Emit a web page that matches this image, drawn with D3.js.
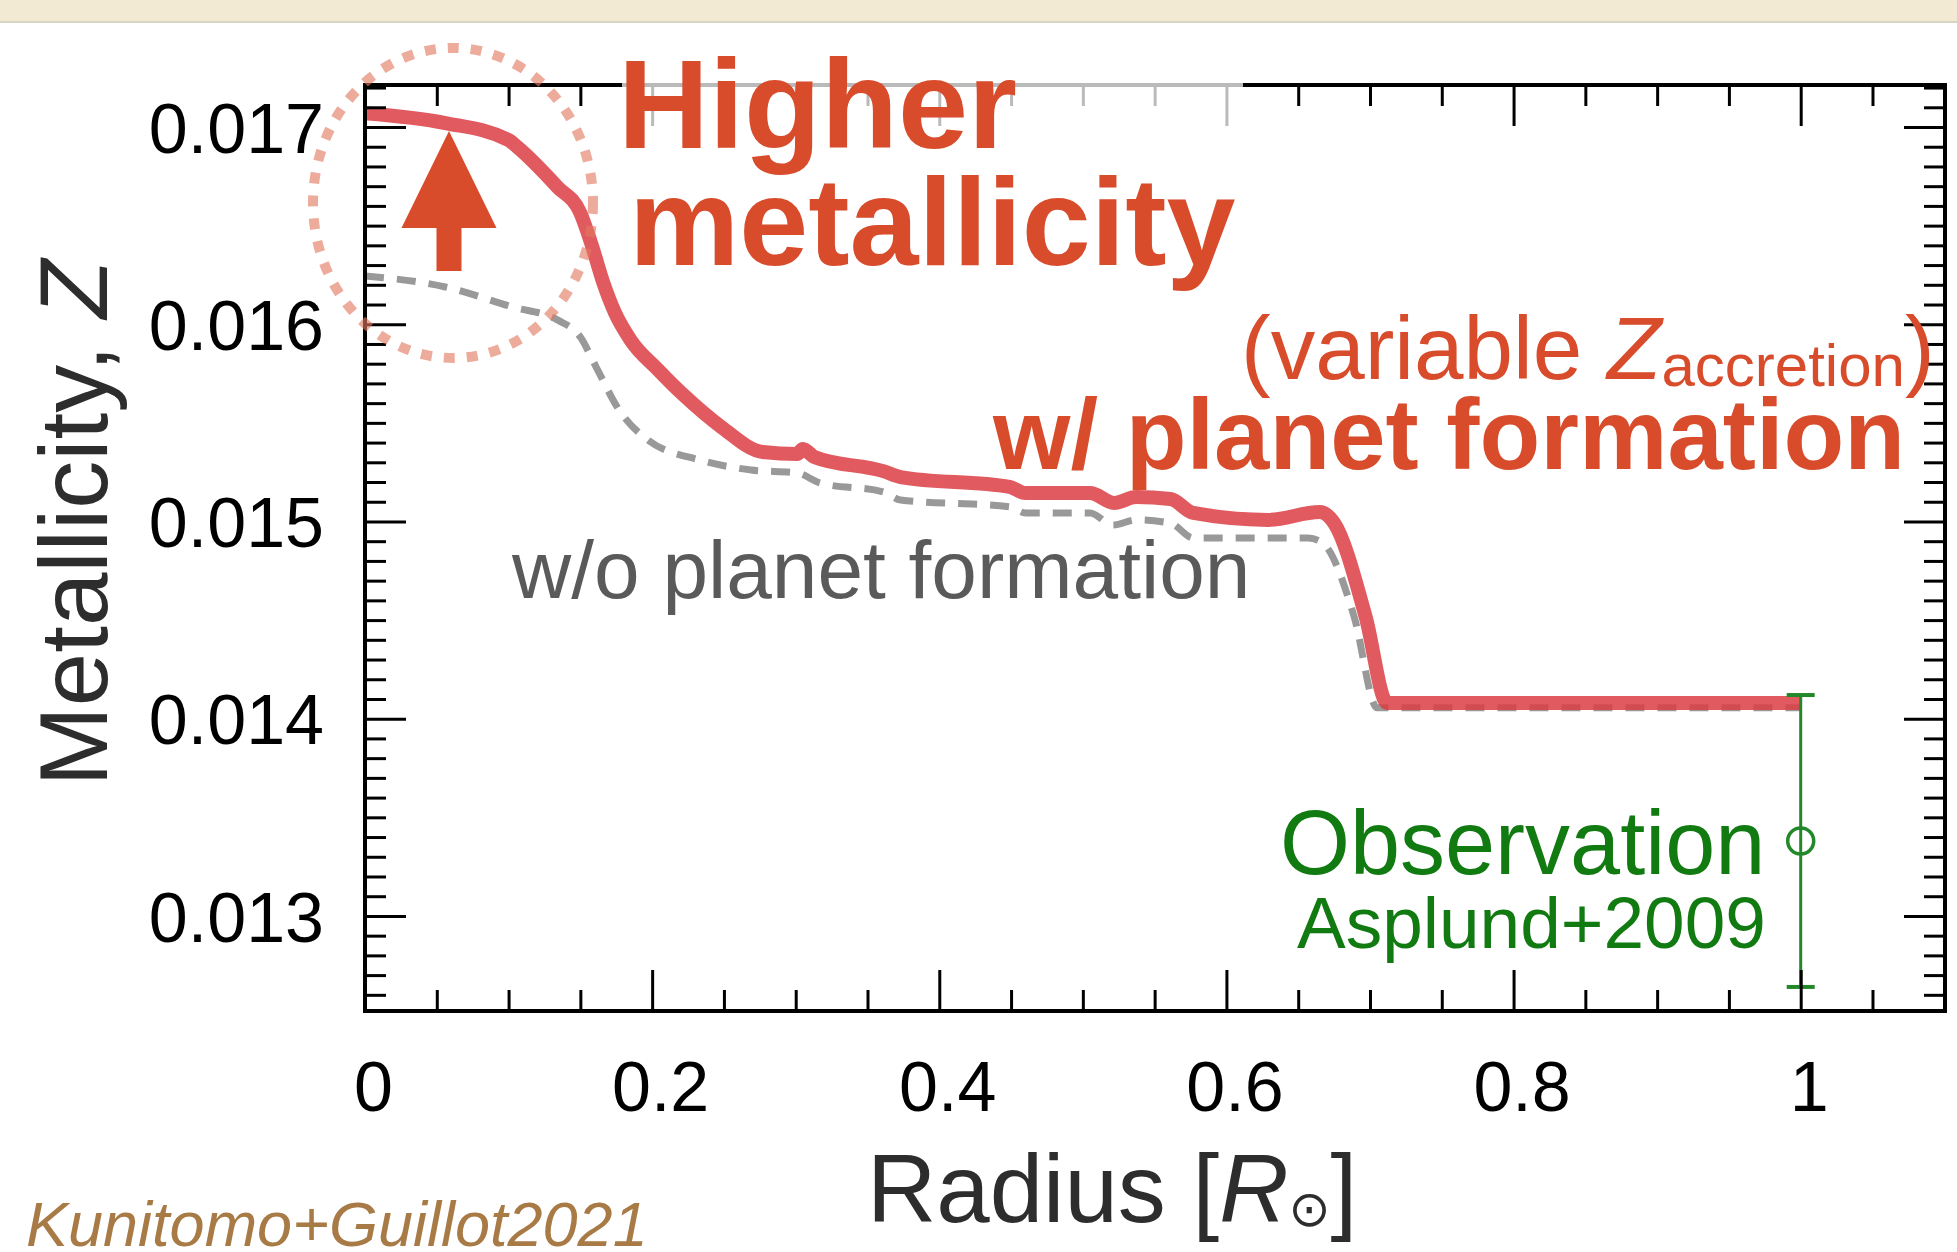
<!DOCTYPE html>
<html>
<head>
<meta charset="utf-8">
<script src="https://cdn.jsdelivr.net/npm/d3@7"></script>
<style>
  body { margin: 0; background: #fff; }
  svg { display: block; }
  text { font-family: 'Liberation Sans', Arial, Helvetica, sans-serif; }
</style>
</head>
<body>
<div id="chart"></div>
<script>
// metallicity profile of the Sun, with / without planet formation

var width = 1957,
    height = 1252;

// with planet formation (variable Z_accretion)
var radiusPF = [0, 0.056, 0.100, 0.106, 0.134, 0.150, 0.158, 0.166, 0.174, 0.185, 0.204, 0.222, 0.248, 0.277,
    0.301, 0.305, 0.313, 0.361, 0.373, 0.449, 0.460, 0.505, 0.522, 0.537, 0.561, 0.577, 0.629, 0.665,
    0.675, 0.697, 0.712, 1.0];
var zPF = [0.01707, 0.01702, 0.016934, 0.016899, 0.016696, 0.016564, 0.01640, 0.01621, 0.01606, 0.01592,
    0.01577, 0.01564, 0.01548, 0.015352, 0.015342, 0.015368, 0.015327, 0.015255, 0.015225, 0.015175,
    0.015144, 0.015144, 0.015094, 0.015124, 0.015114, 0.015043, 0.015008, 0.015048, 0.014992, 0.014516,
    0.01408, 0.01408];

// without planet formation
var radiusNoPF = [0, 0.056, 0.103, 0.134, 0.150, 0.161, 0.177, 0.197, 0.233, 0.269, 0.301, 0.317, 0.361,
    0.373, 0.449, 0.460, 0.505, 0.521, 0.537, 0.561, 0.577, 0.657, 0.667, 0.689, 0.705, 1.0];
var zNoPF = [0.016245, 0.016189, 0.016087, 0.016022, 0.015935, 0.015783, 0.015565, 0.015413, 0.015312,
    0.015261, 0.015246, 0.015195, 0.015150, 0.015109, 0.015074, 0.015043, 0.015043, 0.014982, 0.015008,
    0.014992, 0.014916, 0.014916, 0.014891, 0.014516, 0.014055, 0.014055];

// observation (Asplund+2009)
var obsRadius = [1.0];
var obsZ = [0.01338];
var obsErr = [0.00074];

var xTicks = [0, 0.2, 0.4, 0.6, 0.8, 1];
var xTickLabels = ['0', '0.2', '0.4', '0.6', '0.8', '1'];
var yTicks = [0.013, 0.014, 0.015, 0.016, 0.017];
var yTickLabels = ['0.013', '0.014', '0.015', '0.016', '0.017'];

var plotLeft = 365, plotRight = 1945, plotTop = 85, plotBottom = 1011;

var x = d3.scaleLinear().domain([0, 1.1]).range([plotLeft, plotLeft + 1.1 * 1435.7]);
var y = d3.scaleLinear().domain([0.012518, 0.017213]).range([plotBottom, plotTop]);

var xMinor = d3.range(0, 1.1001, 0.05).filter(function(d) { return Math.abs(d * 5 - Math.round(d * 5)) > 1e-6; });
var yMinor = d3.range(0.0126, 0.01721, 0.0001).filter(function(d) { return Math.abs(d * 1000 - Math.round(d * 1000)) > 1e-6; });

var svg = d3.select('#chart').append('svg')
    .attr('width', width)
    .attr('height', height);

// beige strip at the top
svg.append('rect').attr('x', 0).attr('y', 0).attr('width', width).attr('height', 21).attr('fill', '#f3ead4');
svg.append('rect').attr('x', 0).attr('y', 21).attr('width', width).attr('height', 2).attr('fill', '#d9d3c6');

// curves
var line = d3.line()
    .x(function(d) { return x(d[0]); })
    .y(function(d) { return y(d[1]); })
    .curve(d3.curveMonotoneX);

svg.append('path')
    .datum(d3.zip(radiusNoPF, zNoPF))
    .attr('d', line)
    .attr('fill', 'none')
    .attr('stroke', '#999')
    .attr('stroke-width', 7)
    .attr('stroke-dasharray', '19 13');

svg.append('path')
    .datum(d3.zip(radiusPF, zPF))
    .attr('d', line)
    .attr('fill', 'none')
    .attr('stroke', 'rgb(218,61,67)')
    .attr('stroke-opacity', 0.85)
    .attr('stroke-width', 14)
    .attr('stroke-linejoin', 'round');

// observation with error bar
var obs = svg.append('g').selectAll('g').data(d3.zip(obsRadius, obsZ, obsErr)).enter().append('g');
obs.append('line')
    .attr('x1', function(d) { return x(d[0]); }).attr('x2', function(d) { return x(d[0]); })
    .attr('y1', function(d) { return y(d[1] + d[2]); }).attr('y2', function(d) { return y(d[1] - d[2]); })
    .attr('stroke', '#23882a').attr('stroke-width', 3);
[1, -1].forEach(function(s) {
    obs.append('line')
        .attr('x1', function(d) { return x(d[0]) - 14; }).attr('x2', function(d) { return x(d[0]) + 14; })
        .attr('y1', function(d) { return y(d[1] + s * d[2]); }).attr('y2', function(d) { return y(d[1] + s * d[2]); })
        .attr('stroke', '#23882a').attr('stroke-width', 4);
});
obs.append('circle')
    .attr('cx', function(d) { return x(d[0]); })
    .attr('cy', function(d) { return y(d[1]); })
    .attr('r', 13)
    .attr('fill', 'none')
    .attr('stroke', '#23882a')
    .attr('stroke-width', 3.5);

// axes, ticks pointing inward on all four sides
function addAxis(axis, tx, ty) {
    var g = svg.append('g').attr('transform', 'translate(' + tx + ',' + ty + ')').call(axis);
    g.select('.domain').remove();
    g.selectAll('.tick line').attr('stroke', '#000').attr('stroke-width', 3);
    return g;
}

var bottomAxis = addAxis(d3.axisBottom(x).tickValues(xTicks).tickSize(-41)
    .tickFormat(function(d, i) { return xTickLabels[i]; }), 0, plotBottom);
bottomAxis.selectAll('text')
    .attr('y', 100).attr('dy', 0).attr('dx', 8)
    .attr('font-size', 70).attr('fill', '#000')
    .style('font-family', "'Liberation Sans', Arial, sans-serif");
addAxis(d3.axisBottom(x).tickValues(xMinor).tickSize(-21).tickFormat(''), 0, plotBottom);
addAxis(d3.axisTop(x).tickValues(xTicks).tickSize(-41).tickFormat(''), 0, plotTop);
addAxis(d3.axisTop(x).tickValues(xMinor).tickSize(-21).tickFormat(''), 0, plotTop);

var leftAxis = addAxis(d3.axisLeft(y).tickValues(yTicks).tickSize(-41).tickPadding(41)
    .tickFormat(function(d, i) { return yTickLabels[i]; }), plotLeft, 0);
leftAxis.selectAll('text')
    .attr('dy', '0.36em')
    .attr('font-size', 70).attr('fill', '#000')
    .style('font-family', "'Liberation Sans', Arial, sans-serif");
addAxis(d3.axisLeft(y).tickValues(yMinor).tickSize(-21).tickFormat(''), plotLeft, 0);
addAxis(d3.axisRight(y).tickValues(yTicks).tickSize(-41).tickFormat(''), plotRight, 0);
addAxis(d3.axisRight(y).tickValues(yMinor).tickSize(-21).tickFormat(''), plotRight, 0);

svg.append('rect')
    .attr('x', plotLeft).attr('y', plotTop)
    .attr('width', plotRight - plotLeft).attr('height', plotBottom - plotTop)
    .attr('fill', 'none').attr('stroke', '#000').attr('stroke-width', 4);

// translucent box behind the big title
svg.append('rect')
    .attr('x', 622).attr('y', 40).attr('width', 621).attr('height', 250)
    .attr('fill', '#fff').attr('fill-opacity', 0.73);

// dotted ellipse + arrow in the centre
var ring = { r: 0.0613, z: 0.016615, rr: 0.0975, rz: 0.000786 };
svg.append('ellipse')
    .attr('cx', x(ring.r)).attr('cy', y(ring.z))
    .attr('rx', x(ring.r + ring.rr) - x(ring.r))
    .attr('ry', y(ring.z - ring.rz) - y(ring.z))
    .attr('fill', 'none')
    .attr('stroke', 'rgb(226,120,96)')
    .attr('stroke-opacity', 0.62)
    .attr('stroke-width', 10)
    .attr('stroke-dasharray', '11 12');

var arrow = { r: 0.0585, z0: 0.01627, z1: 0.01698 };
var ax = x(arrow.r), ay0 = y(arrow.z0), ay1 = y(arrow.z1), headH = 97;
svg.append('path')
    .attr('d', 'M' + ax + ',' + ay1 + 'L' + (ax + 47.5) + ',' + (ay1 + headH) + 'L' + (ax + 12.5) + ',' + (ay1 + headH) +
        'L' + (ax + 12.5) + ',' + ay0 + 'L' + (ax - 12.5) + ',' + ay0 + 'L' + (ax - 12.5) + ',' + (ay1 + headH) +
        'L' + (ax - 47.5) + ',' + (ay1 + headH) + 'Z')
    .attr('fill', '#d84c2c');

// annotations
var red = '#d84c2c';
svg.append('text').attr('x', 618).attr('y', 148).attr('font-size', 126).attr('font-weight', 'bold')
    .attr('fill', red).text('Higher');
svg.append('text').attr('x', 629).attr('y', 265).attr('font-size', 124).attr('font-weight', 'bold')
    .attr('fill', red).text('metallicity');

var varText = svg.append('text').attr('x', 1241).attr('y', 379).attr('font-size', 89).attr('fill', red);
varText.append('tspan').text('(variable ');
varText.append('tspan').attr('font-style', 'italic').text('Z');
varText.append('tspan').attr('font-size', 60).attr('dy', 7).text('accretion');
varText.append('tspan').attr('dy', -7).text(')');

svg.append('text').attr('x', 993).attr('y', 469).attr('font-size', 99.5).attr('font-weight', 'bold')
    .attr('fill', red).text('w/ planet formation');

svg.append('text').attr('x', 512).attr('y', 598).attr('font-size', 82)
    .attr('fill', '#5a5a5a').text('w/o planet formation');

svg.append('text').attr('x', 1280).attr('y', 874).attr('font-size', 90)
    .attr('fill', '#117a11').text('Observation');
svg.append('text').attr('x', 1297).attr('y', 948).attr('font-size', 73)
    .attr('fill', '#117a11').text('Asplund+2009');

// axis titles
var yTitle = svg.append('text')
    .attr('transform', 'translate(107,523) rotate(-90)')
    .attr('text-anchor', 'middle')
    .attr('font-size', 96)
    .attr('fill', '#2d2d2d');
yTitle.append('tspan').text('Metallicity, ');
yTitle.append('tspan').attr('font-style', 'italic').text('Z');

var xTitle = svg.append('text').attr('x', 867).attr('y', 1222).attr('font-size', 96).attr('fill', '#2d2d2d');
xTitle.append('tspan').text('Radius [');
xTitle.append('tspan').attr('font-style', 'italic').text('R');
xTitle.append('tspan').attr('font-size', 50).attr('dy', 4).style('font-family', "'DejaVu Sans', sans-serif").text('\u2299');
xTitle.append('tspan').attr('dy', -4).text(']');

svg.append('text').attr('x', 26).attr('y', 1246).attr('font-size', 63).attr('font-style', 'italic')
    .attr('fill', '#a87a45').text('Kunitomo+Guillot2021');
</script>
</body>
</html>
